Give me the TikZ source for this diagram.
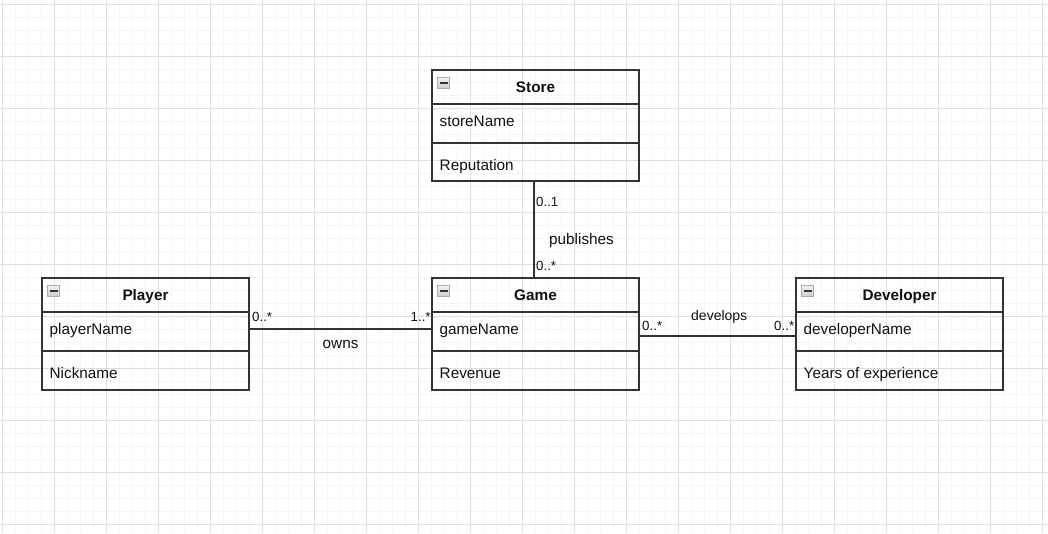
\documentclass[tikz,border=0pt]{standalone}
\usepackage{fontspec}
\setmainfont{Liberation Sans}
\usetikzlibrary{calc}
\definecolor{edge}{HTML}{333333}
\definecolor{ink}{HTML}{111111}
\definecolor{gmaj}{HTML}{DEDEDE}
\definecolor{gmin}{HTML}{F5F5F5}
\begin{document}
\begin{tikzpicture}[x=1pt,y=-1pt,
  minorg/.style={draw=gmin,line width=1pt},
  majorg/.style={draw=gmaj,line width=1pt},
  classbox/.style={draw=edge,line width=2pt,minimum width=207pt,inner sep=0pt,outer sep=0pt},
  divider/.style={draw=edge,line width=2pt},
  title/.style={font=\fontsize{15.3}{18}\selectfont\bfseries,text=ink,inner sep=0pt,anchor=base},
  attr/.style={font=\fontsize{15.3}{18}\selectfont,text=ink,inner sep=0pt,anchor=base west},
  mult/.style={font=\fontsize{13.3}{16}\selectfont,text=ink,inner sep=0pt,anchor=base west},
  assoc/.style={font=\fontsize{15.3}{18}\selectfont,text=ink,inner sep=0pt,anchor=base west},
  link/.style={draw=edge,line width=1.6pt},
  icon/.style={draw=gray!65,line width=1pt,top color=gray!10,bottom color=gray!40,
    minimum width=12pt,minimum height=11pt,inner sep=0pt,
    path picture={\draw[edge,line width=2pt] ([xshift=-4pt]path picture bounding box.center) -- ([xshift=4pt]path picture bounding box.center);}}
]
\useasboundingbox (0,0) rectangle (1048,533);
\fill[white] (0,0) rectangle (1048,533);
% grid
\foreach \k in {0,...,80} {\draw[minorg] ({2.3+13*\k},0) -- ({2.3+13*\k},533);}
\foreach \k in {0,...,40} {\draw[minorg] (0,{4.3+13*\k}) -- (1048,{4.3+13*\k});}
\foreach \k in {0,...,20} {\draw[majorg] ({2.3+52*\k},0) -- ({2.3+52*\k},533);}
\foreach \k in {0,...,10} {\draw[majorg] (0,{4.3+52*\k}) -- (1048,{4.3+52*\k});}

% classes
\node[classbox,minimum height=111pt] (store) at (535.5,125.5) {};
\node[classbox,minimum height=111.5pt] (player) at (145.5,333.75) {};
\node[classbox,minimum height=111.5pt] (game) at (535.5,333.75) {};
\node[classbox,minimum height=111.5pt] (developer) at (899.5,333.75) {};

\foreach \c in {store,player,game,developer} {
  \draw[divider] ($(\c.north west)+(0,33.7)$) -- ($(\c.north east)+(0,33.7)$);
  \draw[divider] ($(\c.north west)+(0,72.6)$) -- ($(\c.north east)+(0,72.6)$);
  \node[icon] (\c Icon) at ($(\c.north west)+(11.5,13)$) {};
}

\node[title] (storeTitle) at ($(store.north)+(0,22.3)$) {Store};
\node[attr] (storeA) at ($(store.north west)+(7.5,56.5)$) {storeName};
\node[attr] (storeB) at ($(store.north west)+(7.5,100.8)$) {Reputation};

\node[title] (playerTitle) at ($(player.north)+(0,22.3)$) {Player};
\node[attr] (playerA) at ($(player.north west)+(7.5,56.5)$) {playerName};
\node[attr] (playerB) at ($(player.north west)+(7.5,100.8)$) {Nickname};

\node[title] (gameTitle) at ($(game.north)+(0,22.3)$) {Game};
\node[attr] (gameA) at ($(game.north west)+(7.5,56.5)$) {gameName};
\node[attr] (gameB) at ($(game.north west)+(7.5,100.8)$) {Revenue};

\node[title] (developerTitle) at ($(developer.north)+(0,22.3)$) {Developer};
\node[attr] (developerA) at ($(developer.north west)+(7.5,56.5)$) {developerName};
\node[attr] (developerB) at ($(developer.north west)+(7.5,100.8)$) {Years of experience};

% connectors
\draw[link] ([xshift=-1.5pt]store.south) -- ([xshift=-1.5pt]game.north);
\draw[link] ([yshift=5pt]player.east) -- ([yshift=5pt]game.west);
\draw[link] ([yshift=-2.2pt]game.east) -- ([yshift=-2.2pt]developer.west);

% labels
\node[mult] (m1) at (536,206) {0..1};
\node[mult] (m2) at (536,270.5) {0..*};
\node[assoc] (publishes) at (549,244) {publishes};

\node[mult] (m3) at (252,321.7) {0..*};
\node[mult] (m4) at (410.5,321.7) {1..*};
\node[assoc] (owns) at (322.5,348.3) {owns};

\node[mult] (m5) at (642,330) {0..*};
\node[mult] (m6) at (774,330) {0..*};
\node[assoc,font=\fontsize{14}{16}\selectfont] (develops) at (691,320.7) {develops};
\end{tikzpicture}
\end{document}
